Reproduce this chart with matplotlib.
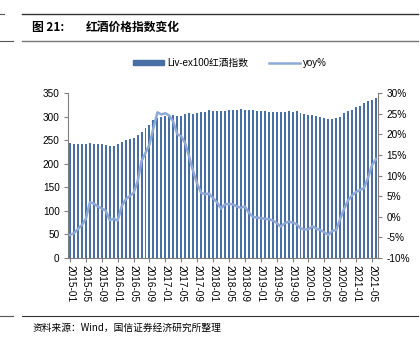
import numpy as np
import pandas as pd
import matplotlib
matplotlib.use("Agg")
import matplotlib.pyplot as plt
from matplotlib.lines import Line2D
from matplotlib.patches import Patch

plt.rcParams['font.family'] = ['Liberation Sans', 'Noto Sans CJK SC', 'DejaVu Sans']

# monthly data, 2015-01 .. 2021-06
months = pd.date_range("2015-01-01", "2021-06-01", freq="MS").strftime("%Y-%m").tolist()

index_vals = [
    243, 242, 241, 242, 242, 243, 242, 242, 241, 240, 237, 238,   # 2015
    241, 247, 250, 252, 255, 260, 268, 276, 282, 292, 298, 300,   # 2016
    302, 301, 303, 302, 301, 305, 307, 306, 308, 309, 310, 313,   # 2017
    312, 312, 311, 312, 313, 315, 314, 316, 315, 314, 313, 312,   # 2018
    311, 311, 310, 309, 310, 309, 309, 311, 310, 311, 308, 305,   # 2019
    304, 303, 302, 299, 297, 295, 294, 298, 300, 308, 312, 315,   # 2020
    320, 323, 328, 332, 335, 339,                                 # 2021
]

yoy = [
    -4.4, -4.0, -3.0, -2.0, -0.5, 3.5, 3.2, 2.5, 2.0, 1.5, -0.8, -0.5,
    -0.9, 2.5, 4.2, 5.0, 5.8, 8.5, 13.5, 15.5, 17.5, 21.5, 25.3, 24.8,
    25.1, 24.5, 23.0, 20.0, 19.5, 17.8, 14.5, 11.0, 8.0, 5.8, 5.5, 5.6,
    4.5, 3.5, 2.0, 3.0, 3.1, 3.0, 2.5, 2.2, 2.5, 1.0, 0.0, -0.2,
    -0.3, -0.5, -0.6, -0.9, -1.5, -2.4, -1.6, -1.2, -1.4, -1.8, -2.8, -3.1,
    -3.0, -2.3, -2.9, -3.2, -3.8, -4.4, -3.4, -3.2, -0.5, 2.0, 4.0, 5.2,
    6.0, 6.5, 7.0, 9.5, 12.5, 14.0,
]

bar_name = "Liv-ex100红酒指数"
line_name = "yoy%"
fig_no = "图 21:"
title = "红酒价格指数变化"
source = "资料来源：Wind，国信证券经济研究所整理"

bar_color = "#4a6fa5"
line_color = "#8fa9d6"
grey = "#808080"

W, H = 420, 340
fig = plt.figure(figsize=(W / 100, H / 100), dpi=100)

# frame lines of the report page
def hline(y, x0, x1, lw=0.8, color="#555555"):
    fig.add_artist(Line2D([x0 / W, x1 / W], [1 - y / H, 1 - y / H], lw=lw, color=color))

hline(14, 22, 418, lw=1.0, color="#333333")
hline(14, 0, 4)
hline(41, 22, 418, lw=1.0, color="#777777")
hline(41, 0, 13)
hline(316, 22, 418, lw=0.8, color="#333333")
hline(316, 0, 13)

cjk = ['Noto Sans CJK SC', 'DejaVu Sans']
fig.text(32 / W, 1 - 27 / H, fig_no, fontsize=8.5, fontweight="bold",
         family=cjk, va="center", ha="left")
fig.text(86 / W, 1 - 27 / H, title, fontsize=8.5, fontweight="bold",
         family=cjk, va="center", ha="left")
fig.text(33 / W, 1 - 328 / H, source, fontsize=7,
         family=cjk, va="center", ha="left")

ax = fig.add_axes([68 / W, 1 - 258 / H, 310 / W, 165 / H])
x = np.arange(len(months))
ax.bar(x, index_vals, width=0.5, color=bar_color, zorder=2)
ax.set_xlim(-0.5, len(months) - 0.5)
ax.set_ylim(0, 350)
ax.set_yticks(range(0, 351, 50))
ax.set_xticks(x[::4])
ax.set_xticklabels(months[::4], rotation=270, fontsize=7.2)
ax.tick_params(axis="y", labelsize=7.2, length=3, color=grey, pad=3)
ax.tick_params(axis="x", length=3, color=grey, pad=2)
for s in ["top", "right"]:
    ax.spines[s].set_visible(False)
ax.spines["left"].set_color(grey)
ax.spines["bottom"].set_color(grey)

ax2 = ax.twinx()
ax2.plot(x, yoy, color=line_color, lw=1.8, zorder=3)
ax2.set_ylim(-10, 30)
ax2.set_yticks(range(-10, 31, 5))
ax2.set_yticklabels([f"{v}%" for v in range(-10, 31, 5)])
ax2.tick_params(axis="y", labelsize=7.2, length=3, color=grey, pad=3)
for s in ["top", "left", "bottom"]:
    ax2.spines[s].set_visible(False)
ax2.spines["right"].set_color(grey)

handles = [Patch(color=bar_color), Line2D([0], [0], color=line_color, lw=1.8)]
fig.legend(handles, [bar_name, line_name], loc="center", bbox_to_anchor=(230 / W, 1 - 63 / H),
           ncol=2, frameon=False, handlelength=3.2, handleheight=0.35,
           columnspacing=2.2, handletextpad=0.3,
           prop={'family': ['Liberation Sans', 'Noto Sans CJK SC'], 'size': 7})

fig.savefig("out.png", dpi=100)
